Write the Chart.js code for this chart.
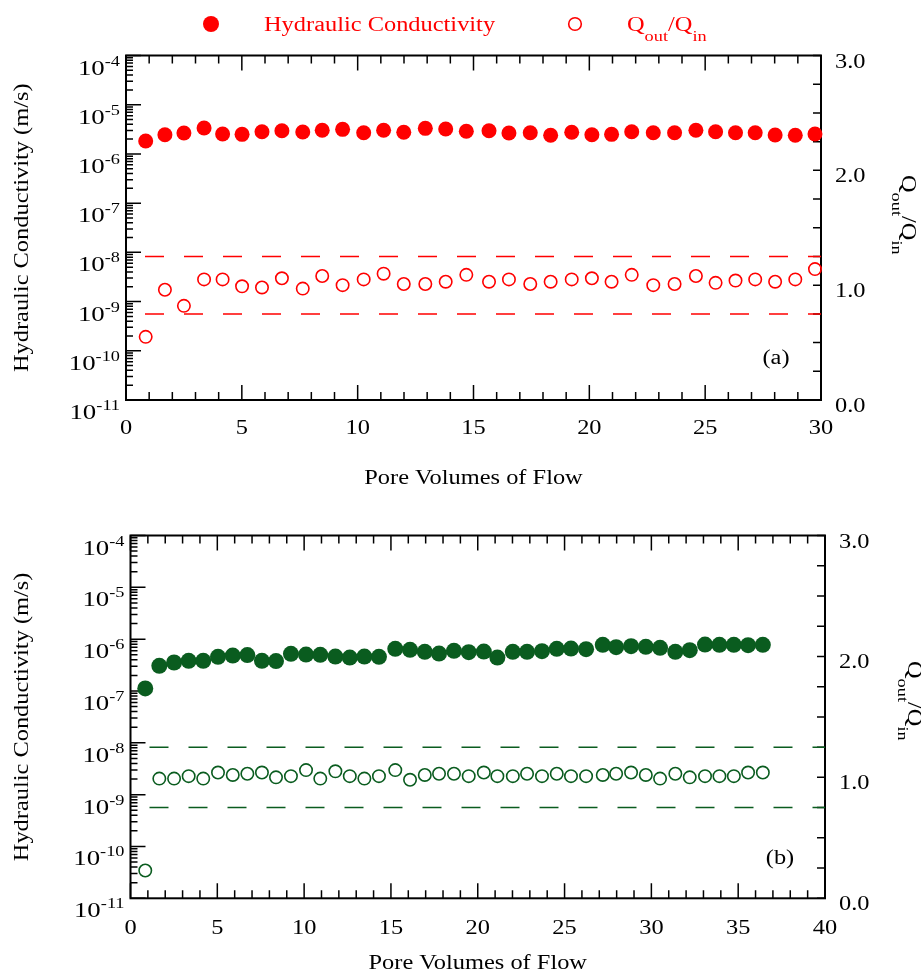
<!DOCTYPE html>
<html>
<head>
<meta charset="utf-8">
<title>Hydraulic conductivity and Qout/Qin vs pore volumes of flow</title>
<script src="https://cdn.jsdelivr.net/npm/chart.js@4.4.1/dist/chart.umd.min.js"></script>
<style>
  html, body { margin: 0; padding: 0; background: #fff; overflow: hidden; }
  canvas { position: absolute; left: 0; }
  #chartA { top: 0; }
  #chartB { top: 490px; }
</style>
</head>
<body>
<canvas id="chartA" width="921" height="490"></canvas>
<canvas id="chartB" width="921" height="483"></canvas>
<script>
// panel (a)
const poreVolA = [0.85, 1.68, 2.50, 3.37, 4.17, 5.01, 5.87, 6.73, 7.63, 8.47, 9.35, 10.26,
  11.12, 11.99, 12.92, 13.80, 14.69, 15.67, 16.53, 17.45, 18.33, 19.24, 20.11, 20.96,
  21.83, 22.76, 23.68, 24.60, 25.45, 26.31, 27.16, 28.02, 28.89, 29.74];
const condA = [1.83e-6, 2.45e-6, 2.66e-6, 3.36e-6, 2.54e-6, 2.50e-6, 2.82e-6, 2.96e-6,
  2.79e-6, 3.02e-6, 3.16e-6, 2.70e-6, 3.02e-6, 2.75e-6, 3.31e-6, 3.21e-6, 2.88e-6,
  2.96e-6, 2.66e-6, 2.70e-6, 2.39e-6, 2.75e-6, 2.45e-6, 2.50e-6, 2.82e-6, 2.70e-6,
  2.70e-6, 3.02e-6, 2.82e-6, 2.70e-6, 2.70e-6, 2.42e-6, 2.39e-6, 2.54e-6];
const qRatioA = [0.55, 0.96, 0.82, 1.05, 1.05, 0.99, 0.98, 1.06, 0.97, 1.08, 1.00, 1.05,
  1.10, 1.01, 1.01, 1.03, 1.09, 1.03, 1.05, 1.01, 1.03, 1.05, 1.06, 1.03, 1.09, 1.00,
  1.01, 1.08, 1.02, 1.04, 1.05, 1.03, 1.05, 1.14];

// panel (b)
const poreVolB = [0.85, 1.66, 2.51, 3.35, 4.19, 5.04, 5.89, 6.73, 7.57, 8.38, 9.24, 10.11,
  10.93, 11.80, 12.63, 13.47, 14.31, 15.25, 16.10, 16.95, 17.77, 18.63, 19.48, 20.35,
  21.13, 22.02, 22.84, 23.70, 24.55, 25.37, 26.24, 27.20, 27.97, 28.83, 29.68, 30.50,
  31.38, 32.21, 33.09, 33.92, 34.75, 35.57, 36.42];
const condB = [1.12e-7, 3.06e-7, 3.54e-7, 3.82e-7, 3.82e-7, 4.56e-7, 4.83e-7, 4.92e-7,
  3.82e-7, 3.77e-7, 5.21e-7, 5.05e-7, 4.98e-7, 4.62e-7, 4.42e-7, 4.62e-7, 4.56e-7,
  6.50e-7, 6.22e-7, 5.69e-7, 5.28e-7, 5.96e-7, 5.62e-7, 5.77e-7, 4.42e-7, 5.69e-7,
  5.69e-7, 5.87e-7, 6.50e-7, 6.59e-7, 6.41e-7, 7.76e-7, 7.01e-7, 7.33e-7, 7.11e-7,
  6.80e-7, 5.69e-7, 6.14e-7, 7.87e-7, 7.76e-7, 7.76e-7, 7.66e-7, 7.76e-7];
const qRatioB = [0.23, 0.99, 0.99, 1.01, 0.99, 1.04, 1.02, 1.03, 1.04, 1.00, 1.01, 1.06,
  0.99, 1.05, 1.01, 0.99, 1.01, 1.06, 0.98, 1.02, 1.03, 1.03, 1.01, 1.04, 1.01, 1.01,
  1.03, 1.01, 1.03, 1.01, 1.01, 1.02, 1.03, 1.04, 1.02, 0.99, 1.03, 1.00, 1.01, 1.01,
  1.01, 1.04, 1.04];

// dashed band on the Qout/Qin axis
const qLimits = [0.75, 1.25];

// axis ticks / labels
const kExponents = [-11, -10, -9, -8, -7, -6, -5, -4];
const qTickValues = [0, 1, 2, 3];
const qTickLabels = ['0.0', '1.0', '2.0', '3.0'];
const xTicksA = [0, 5, 10, 15, 20, 25, 30];
const xTicksB = [0, 5, 10, 15, 20, 25, 30, 35, 40];

const RED = '#ff0000';
const GREEN = '#0a5c1f';
const SERIF = '"Liberation Serif", "Times New Roman", serif';
const SX = 1.22; // the original lettering is a bit wide
const FS = 20;

function richText(ctx, parts, x, y, align, rot, color) {
  ctx.save();
  ctx.translate(x, y);
  if (rot) ctx.rotate(rot);
  ctx.scale(SX, 1);
  ctx.fillStyle = color || '#000';
  ctx.textAlign = 'left';
  ctx.textBaseline = 'alphabetic';
  let total = 0;
  parts.forEach(p => {
    ctx.font = p.size + 'px ' + SERIF;
    p.w = ctx.measureText(p.t).width;
    total += p.w;
  });
  let cx = align === 'right' ? -total : (align === 'center' ? -total / 2 : 0);
  parts.forEach(p => {
    ctx.font = p.size + 'px ' + SERIF;
    ctx.fillText(p.t, cx, p.dy || 0);
    cx += p.w;
  });
  ctx.restore();
}

function qParts() {
  return [{t: 'Q', size: FS}, {t: 'out', size: 15, dy: 10}, {t: '/Q', size: FS}, {t: 'in', size: 15, dy: 10}];
}

function framePlugin(cfg) {
  return {
    id: 'frame' + cfg.tag,
    beforeDatasetsDraw(chart) {
      const ctx = chart.ctx;
      const a = chart.chartArea;
      const x = chart.scales.x, yk = chart.scales.yk, yq = chart.scales.yq;
      ctx.save();
      ctx.strokeStyle = '#000';
      ctx.lineWidth = 1.5;
      ctx.beginPath();
      for (let v = 0; v <= cfg.xMax; v++) {
        const px = x.getPixelForValue(v);
        const len = v % 5 === 0 ? 15 : 8;
        ctx.moveTo(px, a.bottom); ctx.lineTo(px, a.bottom - len);
        ctx.moveTo(px, a.top); ctx.lineTo(px, a.top + len);
      }
      kExponents.forEach((e, i) => {
        const py = yk.getPixelForValue(Math.pow(10, e));
        ctx.moveTo(a.left, py); ctx.lineTo(a.left + 15, py);
        if (i < kExponents.length - 1) {
          for (let m = 2; m <= 9; m++) {
            const pm = yk.getPixelForValue(m * Math.pow(10, e));
            ctx.moveTo(a.left, pm); ctx.lineTo(a.left + 7, pm);
          }
        }
      });
      for (let q = 0; q <= 3; q += 0.25) {
        const py = yq.getPixelForValue(q);
        ctx.moveTo(a.right, py); ctx.lineTo(a.right - 8, py);
      }
      ctx.stroke();
      ctx.lineWidth = 2;
      ctx.strokeRect(a.left, a.top, a.right - a.left, a.bottom - a.top);
      ctx.restore();

      // tick labels
      kExponents.forEach(e => {
        const py = yk.getPixelForValue(Math.pow(10, e));
        richText(ctx, [{t: '10', size: 22}, {t: String(e), size: 15, dy: -9}], a.left - 6, py + 19, 'right');
      });
      qTickValues.forEach((q, i) => {
        const py = yq.getPixelForValue(q);
        richText(ctx, [{t: qTickLabels[i], size: FS}], a.right + 14, py + 12, 'left');
      });
      cfg.xTicks.forEach(v => {
        richText(ctx, [{t: String(v), size: FS}], x.getPixelForValue(v), a.bottom + cfg.xLabelGap, 'center');
      });

      // axis titles
      richText(ctx, [{t: 'Pore Volumes of Flow', size: FS}], (a.left + a.right) / 2, a.bottom + cfg.xTitleGap, 'center');
      richText(ctx, [{t: 'Hydraulic Conductivity (m/s)', size: FS}], 28, (a.top + a.bottom) / 2, 'center', -Math.PI / 2);
      richText(ctx, qParts(), cfg.qTitleX, cfg.qTitleY, 'left', Math.PI / 2);

      // panel label
      richText(ctx, [{t: cfg.label, size: FS}], cfg.labelX, cfg.labelY, 'center');

      // legend (top panel only)
      if (cfg.legend) {
        ctx.save();
        ctx.fillStyle = RED;
        ctx.beginPath(); ctx.arc(211, 24, 8, 0, Math.PI * 2); ctx.fill();
        ctx.strokeStyle = RED; ctx.lineWidth = 1.6;
        ctx.beginPath(); ctx.arc(575, 24, 6.3, 0, Math.PI * 2); ctx.stroke();
        ctx.restore();
        richText(ctx, [{t: 'Hydraulic Conductivity', size: FS}], 264, 31, 'left', 0, RED);
        richText(ctx, qParts(), 627, 31, 'left', 0, RED);
      }
    }
  };
}

function buildChart(id, px, kk, qq, color, xMax, padding, cfg) {
  const pts = (ys) => px.map((v, i) => ({x: v, y: ys[i]}));
  const limitSets = qLimits.map(q => ({
    data: [{x: 0, y: q}, {x: xMax, y: q}],
    yAxisID: 'yq',
    showLine: true,
    borderColor: color,
    borderWidth: 1.5,
    borderDash: [19, 20],
    borderDashOffset: 20,
    pointRadius: 0
  }));
  return new Chart(document.getElementById(id).getContext('2d'), {
    type: 'scatter',
    data: {
      datasets: [
        {
          label: 'Hydraulic Conductivity',
          data: pts(kk),
          yAxisID: 'yk',
          pointRadius: cfg.filledR,
          pointBackgroundColor: color,
          pointBorderWidth: 0,
          clip: false
        },
        {
          label: 'Qout/Qin',
          data: pts(qq),
          yAxisID: 'yq',
          pointRadius: 6.2,
          pointBackgroundColor: 'rgba(0,0,0,0)',
          pointBorderColor: color,
          pointBorderWidth: 1.6,
          clip: false
        }
      ].concat(limitSets)
    },
    options: {
      responsive: false,
      animation: false,
      events: [],
      layout: {padding: padding},
      plugins: {legend: {display: false}, tooltip: {enabled: false}},
      scales: {
        x: {type: 'linear', min: 0, max: xMax, display: false},
        yk: {type: 'logarithmic', position: 'left', min: 1e-11, max: 1e-4, display: false},
        yq: {type: 'linear', position: 'right', min: 0, max: 3, display: false}
      }
    },
    plugins: [framePlugin(Object.assign({xMax: xMax}, cfg))]
  });
}

buildChart('chartA', poreVolA, condA, qRatioA, RED, 30,
  {top: 55.5, bottom: 90, left: 126, right: 100},
  {tag: 'A', filledR: 7.5, xTicks: xTicksA, xLabelGap: 34, xTitleGap: 84,
   qTitleX: 902, qTitleY: 175, label: '(a)', labelX: 776, labelY: 364, legend: true});

buildChart('chartB', poreVolB, condB, qRatioB, GREEN, 40,
  {top: 45.5, bottom: 74.7, left: 130.5, right: 96},
  {tag: 'B', filledR: 8, xTicks: xTicksB, xLabelGap: 36, xTitleGap: 71,
   qTitleX: 908, qTitleY: 171, label: '(b)', labelX: 780, labelY: 374, legend: false});
</script>
</body>
</html>
